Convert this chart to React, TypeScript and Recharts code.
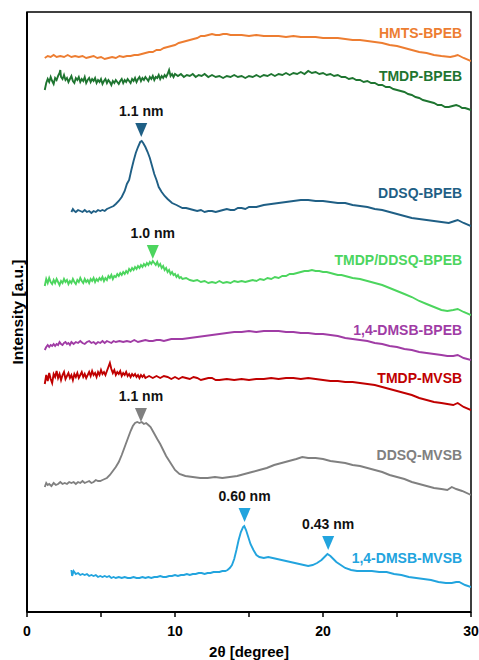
import React from 'react';
import { ComposedChart, Line, XAxis, YAxis, ReferenceArea, ReferenceDot } from 'recharts';

type Pt = [number, number];

// 2θ [degree], intensity [a.u.] (stacked, offsets included)
const hmtsBpeb: Pt[] = [[1.2,554],[1.4,556],[1.6,555],[1.8,557],[2,555],[2.25,556],[2.5,555],[2.75,557],[3,555],[3.25,556],[3.5,555],[3.75,556],[4,554],[4.25,555],[4.5,556],[4.75,554],[5,555],[5.25,553],[5.5,554],[5.75,555],[6,554],[6.25,556],[6.5,555],[6.75,556],[7,556],[7.25,557],[7.5,557],[7.75,558],[8,559],[8.25,560],[8.5,560],[8.75,562],[9,562],[9.25,564],[9.5,565],[9.75,566],[10,567],[10.25,569],[10.5,570],[10.75,571],[11,572],[11.25,573],[11.5,574],[11.75,576],[12,576],[12.25,577],[12.5,578],[12.75,577],[13,577],[13.25,578],[13.5,578],[13.75,577],[14,577],[14.5,577],[15,576],[15.5,577],[16,576],[16.5,576],[17,576],[17.5,575],[18,576],[18.5,575],[19,575],[19.5,575],[20,574],[20.5,574],[21,574],[21.5,573],[22,572],[22.5,572],[23,571],[23.5,570],[24,569],[24.5,567],[25,566],[25.5,564],[26,562],[26.5,560],[27,559],[27.5,557],[28,556],[28.6,555],[28.9,556],[29.1,557],[29.5,554],[30,551]];

const tmdpBpeb: Pt[] = [[1.2,522],[1.3,529],[1.4,533],[1.5,530],[1.6,535],[1.7,531],[1.8,528],[1.9,534],[2.0,532],[2.1,536],[2.2,539],[2.25,542],[2.3,535],[2.4,533],[2.5,537],[2.6,532],[2.7,534],[2.8,530],[2.9,533],[3.0,536],[3.1,531],[3.2,529],[3.3,534],[3.4,532],[3.5,535],[3.6,530],[3.7,533],[3.8,531],[3.9,535],[4.0,529],[4.1,532],[4.2,534],[4.3,530],[4.4,533],[4.5,531],[4.6,534],[4.7,529],[4.8,532],[4.9,530],[5.0,533],[5.1,528],[5.2,531],[5.3,533],[5.4,529],[5.5,532],[5.6,530],[5.7,527],[5.8,531],[5.9,529],[6.0,532],[6.1,530],[6.2,528],[6.3,531],[6.4,533],[6.5,529],[6.6,532],[6.7,530],[6.8,533],[6.9,531],[7.0,529],[7.1,533],[7.2,531],[7.3,534],[7.4,530],[7.5,533],[7.6,535],[7.7,531],[7.8,534],[7.9,532],[8.0,535],[8.1,533],[8.2,531],[8.3,535],[8.4,533],[8.5,536],[8.6,532],[8.7,535],[8.8,534],[8.9,537],[9.0,533],[9.1,536],[9.2,534],[9.3,537],[9.4,535],[9.5,538],[9.6,542],[9.7,536],[9.8,538],[9.9,535],[10.0,538],[10.2,536],[10.4,538],[10.6,535],[10.8,537],[11.0,536],[11.2,538],[11.4,535],[11.6,537],[11.8,536],[12.0,538],[12.25,535],[12.5,537],[12.75,535],[13.0,536],[13.25,534],[13.5,536],[13.75,535],[14.0,537],[14.25,535],[14.5,536],[14.75,534],[15.0,536],[15.25,535],[15.5,537],[15.75,535],[16.0,537],[16.25,536],[16.5,538],[16.75,536],[17.0,538],[17.25,537],[17.5,539],[17.75,537],[18.0,539],[18.25,538],[18.5,540],[18.75,538],[19.0,541],[19.25,539],[19.5,540],[19.75,538],[20.0,539],[20.25,537],[20.5,538],[20.75,536],[21.0,537],[21.25,535],[21.5,535],[21.75,533],[22.0,534],[22.25,532],[22.5,532],[22.75,530],[23.0,531],[23.25,529],[23.5,529],[23.75,527],[24.0,527],[24.25,525],[24.5,525],[24.75,523],[25.0,522],[25.25,521],[25.5,520],[25.75,518],[26.0,517],[26.25,515],[26.5,514],[26.75,512],[27.0,511],[27.25,510],[27.5,509],[27.75,507],[28.0,507],[28.25,505],[28.5,505],[28.75,506],[29.0,507],[29.2,506],[29.4,504],[29.6,504],[29.8,503],[30,502]];

const ddsqBpeb: Pt[] = [[3.0,400],[3.1,403],[3.2,401],[3.3,400],[3.45,402],[3.6,401],[3.75,400],[3.9,402],[4.05,400],[4.2,401],[4.35,399],[4.5,401],[4.65,400],[4.8,402],[4.95,401],[5.1,402],[5.25,401],[5.4,403],[5.55,404],[5.7,405],[5.85,406],[6.0,408],[6.2,411],[6.4,415],[6.6,421],[6.75,428],[6.9,432],[7.05,442],[7.2,451],[7.35,459],[7.5,465],[7.65,470],[7.75,471],[7.85,469],[8.0,465],[8.15,460],[8.3,454],[8.45,446],[8.6,438],[8.75,432],[8.9,425],[9.1,420],[9.3,416],[9.5,413],[9.8,409],[10.1,407],[10.5,404],[10.75,404],[11,403],[11.25,402],[11.5,401],[11.75,402],[12,400],[12.25,401],[12.5,401],[12.75,400],[13,401],[13.25,402],[13.5,403],[13.75,402],[14,402],[14.25,404],[14.5,404],[14.75,403],[15,405],[15.5,405],[16,407],[16.5,408],[17,409],[17.5,410],[18,411],[18.5,412],[19,412],[19.5,411],[20,411],[20.5,410],[21,409],[21.5,409],[22,407],[22.5,406],[23,405],[23.5,403],[24,402],[24.5,400],[25,398],[25.5,396],[26,394],[26.5,393],[27,392],[27.5,391],[28,390],[28.5,389],[28.9,391],[29.1,392],[29.5,389],[30,386]];

const tmdpDdsqBpeb: Pt[] = [[1.2,326],[1.3,333],[1.4,329],[1.5,334],[1.6,330],[1.7,328],[1.8,332],[1.9,329],[2.0,333],[2.1,330],[2.2,327],[2.3,331],[2.4,329],[2.5,333],[2.6,330],[2.7,332],[2.8,328],[2.9,331],[3.0,329],[3.1,333],[3.2,330],[3.3,328],[3.4,332],[3.5,330],[3.6,334],[3.7,331],[3.8,329],[3.9,333],[4.0,330],[4.1,332],[4.2,329],[4.3,333],[4.4,331],[4.5,334],[4.6,330],[4.7,333],[4.8,331],[4.9,334],[5.0,332],[5.1,335],[5.2,331],[5.3,334],[5.4,332],[5.5,336],[5.6,334],[5.7,337],[5.8,333],[5.9,336],[6.0,335],[6.1,338],[6.2,336],[6.3,339],[6.4,337],[6.5,340],[6.6,338],[6.7,341],[6.8,339],[6.9,343],[7.0,341],[7.1,344],[7.2,342],[7.3,345],[7.4,343],[7.5,346],[7.6,344],[7.7,347],[7.8,345],[7.9,348],[8.0,346],[8.1,349],[8.2,347],[8.3,350],[8.4,348],[8.5,351],[8.6,349],[8.7,347],[8.8,350],[8.9,346],[9.0,348],[9.1,344],[9.2,346],[9.3,342],[9.4,344],[9.5,340],[9.6,342],[9.7,338],[9.8,340],[9.9,337],[10.0,338],[10.1,335],[10.2,337],[10.3,334],[10.4,335],[10.5,333],[10.75,334],[11.0,332],[11.25,331],[11.5,332],[11.75,330],[12.0,331],[12.25,329],[12.5,330],[12.75,329],[13,331],[13.25,329],[13.5,330],[13.75,329],[14,331],[14.25,330],[14.5,331],[14.75,330],[15,331],[15.25,332],[15.5,331],[15.75,333],[16,332],[16.25,334],[16.5,333],[16.75,335],[17,334],[17.25,336],[17.5,336],[17.75,338],[18,338],[18.25,339],[18.5,340],[18.75,341],[19,341],[19.25,342],[19.5,341],[19.75,341],[20,340],[20.25,340],[20.5,339],[20.75,338],[21,337],[21.25,337],[21.5,336],[21.75,335],[22,334],[22.5,333],[23,331],[23.5,329],[24,327],[24.5,324],[25,321],[25.5,318],[26,315],[26.5,311],[27,308],[27.5,305],[28,302],[28.4,301],[28.8,302],[29.1,303],[29.5,300],[30,297]];

const dmsbBpeb: Pt[] = [[1.2,262],[1.3,265],[1.4,267],[1.5,265],[1.6,267],[1.7,266],[1.8,268],[1.9,266],[2.0,268],[2.1,267],[2.2,270],[2.3,268],[2.4,267],[2.5,269],[2.6,270],[2.7,268],[2.8,269],[2.9,267],[3.0,270],[3.15,268],[3.3,270],[3.45,269],[3.6,271],[3.75,269],[3.9,268],[4.05,270],[4.2,271],[4.35,269],[4.5,270],[4.65,268],[4.8,270],[4.95,269],[5.1,271],[5.25,269],[5.4,271],[5.55,270],[5.7,269],[5.85,271],[6.0,270],[6.25,271],[6.5,270],[6.75,271],[7.0,270],[7.25,272],[7.5,270],[7.75,271],[8,272],[8.25,271],[8.5,271],[8.75,272],[9,272],[9.25,271],[9.5,272],[9.75,273],[10,273],[10.5,273],[11,274],[11.5,275],[12,276],[12.5,277],[13,278],[13.5,279],[14,280],[14.5,280],[15,281],[15.5,280],[16,281],[16.5,281],[17,281],[17.5,280],[18,280],[18.5,279],[19,279],[19.5,278],[20,278],[20.5,277],[21,276],[21.5,274],[22,273],[22.5,272],[23,271],[23.5,269],[24,268],[24.5,266],[25,265],[25.5,263],[26,262],[26.5,260],[27,259],[27.5,258],[28,257],[28.4,256],[28.8,256],[29.1,257],[29.5,254],[30,252]];

const tmdpMvsb: Pt[] = [[1.2,228],[1.3,237],[1.4,231],[1.5,239],[1.6,233],[1.7,229],[1.8,238],[1.9,235],[2.0,241],[2.1,234],[2.2,238],[2.3,232],[2.4,237],[2.5,240],[2.6,233],[2.7,236],[2.8,239],[2.9,234],[3.0,237],[3.1,232],[3.2,238],[3.3,235],[3.4,239],[3.5,234],[3.6,237],[3.7,240],[3.8,235],[3.9,238],[4.0,234],[4.1,237],[4.2,240],[4.3,236],[4.4,241],[4.5,237],[4.6,239],[4.7,235],[4.8,240],[4.9,237],[5.0,242],[5.1,238],[5.2,240],[5.3,237],[5.4,241],[5.5,245],[5.6,249],[5.7,243],[5.8,239],[5.9,242],[6.0,237],[6.1,240],[6.2,238],[6.3,241],[6.4,236],[6.5,239],[6.6,237],[6.7,240],[6.8,236],[6.9,238],[7.0,235],[7.1,238],[7.2,236],[7.3,238],[7.4,235],[7.5,237],[7.6,234],[7.7,237],[7.8,235],[7.9,237],[8.0,234],[8.25,236],[8.5,234],[8.75,236],[9.0,234],[9.25,236],[9.5,235],[9.75,233],[10,235],[10.25,233],[10.5,235],[10.75,234],[11,233],[11.25,235],[11.5,234],[11.75,232],[12,233],[12.25,234],[12.5,234],[12.75,232],[13,232],[13.5,233],[14,232],[14.5,233],[15,232],[15.5,233],[16,233],[16.5,234],[17,233],[17.5,234],[18,234],[18.5,233],[19,234],[19.5,233],[20,232],[20.5,231],[21,231],[21.5,230],[22,230],[22.5,229],[23,228],[23.5,227],[24,225],[24.5,223],[25,221],[25.5,219],[26,217],[26.5,214],[27,212],[27.5,210],[28,209],[28.4,208],[28.8,207],[29.1,209],[29.5,205],[30,202]];

const ddsqMvsb: Pt[] = [[1.2,125],[1.3,129],[1.4,127],[1.5,128],[1.65,126],[1.8,129],[1.95,127],[2.1,128],[2.25,130],[2.4,128],[2.55,129],[2.7,128],[2.85,130],[3.0,129],[3.15,130],[3.3,128],[3.45,130],[3.6,129],[3.75,131],[3.9,129],[4.05,130],[4.2,131],[4.35,129],[4.5,130],[4.65,132],[4.8,131],[4.95,131],[5.1,132],[5.25,133],[5.4,134],[5.6,137],[5.8,141],[6.0,145],[6.2,150],[6.4,157],[6.6,165],[6.8,173],[7.0,181],[7.15,186],[7.3,189],[7.45,190],[7.6,189],[7.75,190],[7.9,188],[8.05,189],[8.2,187],[8.35,185],[8.5,181],[8.65,177],[8.8,173],[9.0,168],[9.2,162],[9.4,156],[9.7,149],[10.0,142],[10.3,138],[10.7,136],[11.2,135],[11.7,134],[12.2,134],[12.7,135],[13.2,134],[13.7,135],[14.2,136],[14.7,138],[15.2,140],[15.7,142],[16.2,144],[16.7,147],[17.2,149],[17.7,151],[18.2,153],[18.6,155],[19.0,154],[19.5,154],[20,153],[20.5,151],[21,150],[21.5,149],[22,147],[22.5,146],[23,144],[23.5,142],[24,140],[24.5,137],[25,135],[25.5,133],[26,130],[26.5,128],[27,126],[27.5,124],[28,123],[28.4,122],[28.7,125],[29.0,123],[29.4,121],[30,117]];

const dmsbMvsb: Pt[] = [[3.0,42],[3.05,36],[3.15,41],[3.3,38],[3.45,39],[3.6,37],[3.75,38],[3.9,37],[4.05,38],[4.2,36],[4.35,37],[4.5,36],[4.65,37],[4.8,35],[4.95,36],[5.1,35],[5.25,36],[5.4,35],[5.55,36],[5.7,34],[5.85,35],[6.0,34],[6.2,35],[6.4,34],[6.6,35],[6.8,34],[7.0,34],[7.2,35],[7.4,34],[7.6,34],[7.8,35],[8.0,34],[8.2,35],[8.4,34],[8.6,35],[8.8,35],[9.0,36],[9.2,35],[9.4,35],[9.6,36],[9.8,36],[10,37],[10.2,36],[10.4,37],[10.6,37],[10.8,38],[11.0,37],[11.2,38],[11.4,38],[11.6,39],[11.8,39],[12.0,38],[12.2,39],[12.4,39],[12.6,40],[12.8,40],[13.0,40],[13.2,41],[13.4,41],[13.55,42],[13.7,44],[13.85,47],[14.0,53],[14.15,62],[14.3,72],[14.45,80],[14.6,85],[14.68,86],[14.8,82],[14.95,75],[15.1,68],[15.3,62],[15.5,57],[15.7,55],[16.0,54],[16.3,55],[16.6,54],[16.9,53],[17.2,52],[17.5,51],[17.8,50],[18.1,49],[18.4,48],[18.7,47],[19.0,46],[19.3,47],[19.6,49],[19.9,52],[20.1,55],[20.3,58],[20.5,56],[20.7,53],[20.9,50],[21.2,47],[21.5,44],[21.9,42],[22.3,41],[22.8,41],[23.3,41],[23.8,40],[24.3,40],[24.8,38],[25.3,37],[25.8,35],[26.3,34],[26.8,33],[27.3,32],[27.8,30],[28.3,29],[28.7,29],[29.0,30],[29.2,30],[29.6,27],[30,25]];

const seriesData: Pt[][] = [hmtsBpeb, tmdpBpeb, ddsqBpeb, tmdpDdsqBpeb, dmsbBpeb, tmdpMvsb, ddsqMvsb, dmsbMvsb];
const seriesNames = ['HMTS-BPEB', 'TMDP-BPEB', 'DDSQ-BPEB', 'TMDP/DDSQ-BPEB', '1,4-DMSB-BPEB', 'TMDP-MVSB', 'DDSQ-MVSB', '1,4-DMSB-MVSB'];
const seriesColors = ['#ED7D31', '#1E7530', '#1F5F85', '#4CD55E', '#A03CA5', '#C00000', '#808080', '#22A4DE'];
const seriesLabelY = [579, 536, 419, 352, 282, 234, 157, 54];
const seriesLabelX = 29.4;

// peak markers (apex position) and d-spacing labels
const peakX = [7.72, 8.5, 7.7, 14.7, 20.35];
const peakY = [475, 353, 190, 90, 62];
const peakText = ['1.1 nm', '1.0 nm', '1.1 nm', '0.60 nm', '0.43 nm'];
const peakSeries = [2, 3, 6, 7, 7];

const xTicks = [0, 5, 10, 15, 20, 25, 30];

const toRows = (pts: Pt[]) => pts.map(([x, v]) => ({ x, v }));

const makePeakShape = (i: number) => (props: any) => {
  const { cx, cy } = props;
  const color = seriesColors[peakSeries[i]];
  return (
    <g>
      <path d={`M${cx - 6},${cy - 14} L${cx + 6},${cy - 14} L${cx},${cy} Z`} fill={color} />
      <text x={cx} y={cy - 21} textAnchor="middle" fontSize={14} fontWeight={700} fill="#111">
        {peakText[i]}
      </text>
    </g>
  );
};

const makeNameShape = (i: number) => (props: any) => (
  <text x={props.cx} y={props.cy + 5} textAnchor="end" fontSize={14} fontWeight={700} fill={seriesColors[i]}>
    {seriesNames[i]}
  </text>
);

const yLabel = () => (
  <text x={0} y={0} transform="translate(23,312) rotate(-90)" textAnchor="middle" fontSize={15.5} fontWeight={700} fill="#000">
    Intensity [a.u.]
  </text>
);

export default function App() {
  return (
    <div
      style={{
        position: 'absolute',
        left: 0,
        top: 0,
        width: 479,
        height: 660,
        background: '#fff',
        fontFamily: '"Liberation Sans", Arial, sans-serif',
      }}
    >
      <ComposedChart width={479} height={660} margin={{ top: 12, right: 8, bottom: 0, left: 0 }}>
        <XAxis
          dataKey="x"
          type="number"
          domain={[0, 30]}
          ticks={xTicks}
          interval={0}
          allowDataOverflow
          height={48}
          tickSize={5}
          tickMargin={9}
          tickFormatter={(v: number) => (v % 10 === 0 ? String(v) : '')}
          tick={{ fontSize: 14, fontWeight: 700, fill: '#000' }}
          tickLine={{ stroke: '#000', strokeWidth: 1.5 }}
          axisLine={{ stroke: '#000', strokeWidth: 2 }}
          label={{ value: '2θ [degree]', position: 'insideBottom', offset: 3, fill: '#000', fontSize: 15, fontWeight: 700 }}
        />
        <YAxis
          type="number"
          domain={[0, 600]}
          allowDataOverflow
          width={27}
          tick={false}
          tickLine={false}
          axisLine={{ stroke: '#000', strokeWidth: 2 }}
          label={yLabel}
        />
        <ReferenceArea x1={0} x2={30} y1={0} y2={600} fill="none" stroke="#000" strokeWidth={1.5} ifOverflow="visible" />
        {seriesData.map((pts, i) => (
          <Line
            key={seriesNames[i]}
            data={toRows(pts)}
            dataKey="v"
            type="linear"
            stroke={seriesColors[i]}
            strokeWidth={1.9}
            dot={false}
            activeDot={false}
            isAnimationActive={false}
          />
        ))}
        {seriesNames.map((n, i) => (
          <ReferenceDot key={'lbl' + n} x={seriesLabelX} y={seriesLabelY[i]} r={0} shape={makeNameShape(i)} ifOverflow="visible" />
        ))}
        {peakX.map((px, i) => (
          <ReferenceDot key={'pk' + i} x={px} y={peakY[i]} r={0} shape={makePeakShape(i)} ifOverflow="visible" />
        ))}
      </ComposedChart>
    </div>
  );
}
